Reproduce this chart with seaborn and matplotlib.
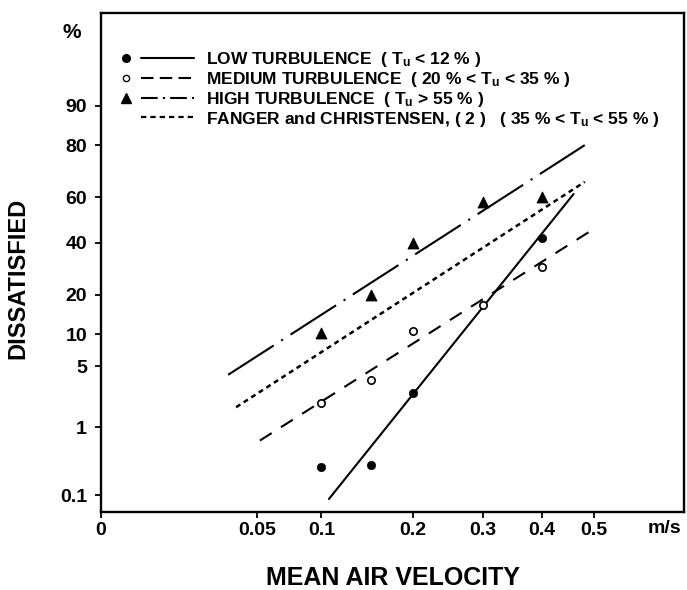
import math
from statistics import NormalDist

import numpy as np
import pandas as pd
import matplotlib
matplotlib.use("Agg")
import matplotlib.pyplot as plt
import seaborn as sns
from matplotlib.lines import Line2D
from matplotlib.legend_handler import HandlerBase

# measured points (velocity in m/s, percent dissatisfied)
low_v = [0.10, 0.15, 0.20, 0.40]
low_pd = [0.28, 0.30, 2.6, 42.0]
med_v = [0.10, 0.15, 0.20, 0.30, 0.40]
med_pd = [2.0, 3.6, 10.6, 17.0, 30.0]
high_v = [0.10, 0.15, 0.20, 0.30, 0.40]
high_pd = [10.2, 20.0, 40.0, 58.0, 60.0]

# fitted lines (end points)
low_fit_v = [0.107, 0.460]
low_fit_pd = [0.086, 61.5]
med_fit_v = [0.052, 0.500]
med_fit_pd = [0.66, 46.0]
high_fit_v = [0.0333, 0.482]
high_fit_pd = [4.1, 80.0]
fanger_fit_v = [0.0376, 0.482]
fanger_fit_pd = [1.77, 66.6]

x_ticks = [0, 0.05, 0.1, 0.2, 0.3, 0.4, 0.5]
x_tick_labels = ["0", "0.05", "0.1", "0.2", "0.3", "0.4", "0.5"]
y_ticks = [0.1, 1, 5, 10, 20, 40, 60, 80, 90]
y_tick_labels = ["0.1", "1", "5", "10", "20", "40", "60", "80", "90"]

legend_labels = [
    r"LOW TURBULENCE  ( $\mathbf{T_u}$ < 12 % )",
    r"MEDIUM TURBULENCE  ( 20 % < $\mathbf{T_u}$ < 35 % )",
    r"HIGH TURBULENCE  ( $\mathbf{T_u}$ > 55 % )",
    r"FANGER and CHRISTENSEN, ( 2 )   ( 35 % < $\mathbf{T_u}$ < 55 % )",
]

sns.set_theme(style="white")
plt.rcParams["font.family"] = ["Liberation Sans", "DejaVu Sans"]
plt.rcParams["mathtext.fontset"] = "custom"
plt.rcParams["mathtext.rm"] = "Liberation Sans"
plt.rcParams["mathtext.bf"] = "Liberation Sans:bold"
plt.rcParams["mathtext.it"] = "Liberation Sans:italic"
plt.rcParams["text.color"] = "black"
plt.rcParams["axes.labelcolor"] = "black"
plt.rcParams["xtick.color"] = "black"
plt.rcParams["ytick.color"] = "black"

# probability (probit) scale for the y axis, square-root scale for x
_nd = NormalDist()
_ppf = np.vectorize(_nd.inv_cdf, otypes=[float])
_cdf = np.vectorize(_nd.cdf, otypes=[float])


def probit(p):
    p = np.clip(np.asarray(p, dtype=float) / 100.0, 1e-7, 1 - 1e-7)
    return _ppf(p)


def inv_probit(z):
    return 100.0 * _cdf(np.asarray(z, dtype=float))


def sqrt_fwd(v):
    v = np.asarray(v, dtype=float)
    return np.sign(v) * np.sqrt(np.abs(v))


def sqrt_inv(x):
    x = np.asarray(x, dtype=float)
    return np.sign(x) * x * x


class MarkerThenLine(HandlerBase):
    # legend entry: symbol on the left, line sample to its right
    def create_artists(self, legend, orig_handle, xdescent, ydescent,
                       width, height, fontsize, trans):
        y = (height - ydescent) / 2
        x0 = -xdescent
        seg = Line2D([x0 + 0.23 * width, x0 + width], [y, y])
        seg.update_from(orig_handle)
        seg.set_marker("None")
        seg.set_transform(trans)
        dot = Line2D([x0 + 0.02 * width], [y])
        dot.update_from(orig_handle)
        dot.set_linestyle("None")
        dot.set_transform(trans)
        return [seg, dot]


fig = plt.figure(figsize=(6.87, 5.9), dpi=100)
ax = fig.add_axes([101 / 687, 1 - 512 / 590, 583 / 687, 499 / 590])
ax.set_xscale("function", functions=(sqrt_fwd, sqrt_inv))
ax.set_yscale("function", functions=(probit, inv_probit))

dash_med = (0, (6.7, 5.3))
dash_high = (0, (26, 4.3, 1, 4.3))
dash_fanger = (0, (2.0, 1.6))

fits = [
    (low_fit_v, low_fit_pd, "-", 1.5),
    (med_fit_v, med_fit_pd, dash_med, 1.5),
    (high_fit_v, high_fit_pd, dash_high, 1.5),
    (fanger_fit_v, fanger_fit_pd, dash_fanger, 1.8),
]
for fv, fpd, ls, lw in fits:
    df = pd.DataFrame({"v": fv, "pd": fpd})
    sns.lineplot(data=df, x="v", y="pd", ax=ax, color="black", lw=lw,
                 linestyle=ls, estimator=None, errorbar=None, sort=False,
                 legend=False)

sns.scatterplot(x=low_v, y=low_pd, ax=ax, marker="o", s=36, color="black",
                edgecolor="black", zorder=4, legend=False)
sns.scatterplot(x=med_v, y=med_pd, ax=ax, marker="o", s=28,
                facecolor="white", edgecolor="black", linewidth=1.2,
                zorder=4, legend=False)
sns.scatterplot(x=high_v, y=high_pd, ax=ax, marker="^", s=62, color="black",
                edgecolor="black", zorder=4, legend=False)

ax.set_xlim(0, 0.70)
ax.set_ylim(0.0517, 99.0)
ax.set_xticks(x_ticks, labels=x_tick_labels, fontweight="bold", fontsize=14)
ax.set_yticks(y_ticks, labels=y_tick_labels, fontweight="bold", fontsize=14)
ax.minorticks_off()
ax.tick_params(axis="y", direction="out", length=4, width=1.3, pad=6,
               left=True, colors="black")
ax.tick_params(axis="x", direction="out", length=4, width=1.3, pad=3,
               bottom=True, colors="black")
for s in ax.spines.values():
    s.set_visible(True)
    s.set_linewidth(1.7)
    s.set_color("black")

ax.set_xlabel("MEAN AIR VELOCITY", fontsize=18, fontweight="bold")
ax.xaxis.set_label_coords(0.5, -0.108)
ax.set_ylabel("DISSATISFIED", fontsize=17, fontweight="bold")
ax.yaxis.set_label_coords(-0.122, 0.469)

ax.text(-0.05, 0.96, "%", transform=ax.transAxes, ha="center", va="center",
        fontsize=15, fontweight="bold")
ax.text(0.654, -0.034, "m/s", transform=ax.get_xaxis_transform(),
        ha="center", va="center", fontsize=14, fontweight="bold")

handles = [
    Line2D([], [], color="black", lw=1.5, ls="-", marker="o", ms=5.5,
           mfc="black", mec="black"),
    Line2D([], [], color="black", lw=1.5, ls=(0, (6, 3)), marker="o",
           ms=4.5, mfc="white", mec="black", mew=1),
    Line2D([], [], color="black", lw=1.5, ls=(0, (8, 2.5, 1, 2.5)),
           marker="^", ms=7, mfc="black", mec="black"),
    Line2D([], [], color="black", lw=1.6, ls=(0, (2.4, 1.8)), marker="None"),
]
ax.legend(handles=handles, labels=legend_labels,
          handler_map={Line2D: MarkerThenLine()},
          loc="upper left", bbox_to_anchor=(0.0405, 0.926), frameon=False,
          prop={"weight": "bold", "size": 12.5}, handlelength=4.0,
          handletextpad=0.7, labelspacing=0.05, borderpad=0, borderaxespad=0)

fig.savefig("out.png", dpi=100)
